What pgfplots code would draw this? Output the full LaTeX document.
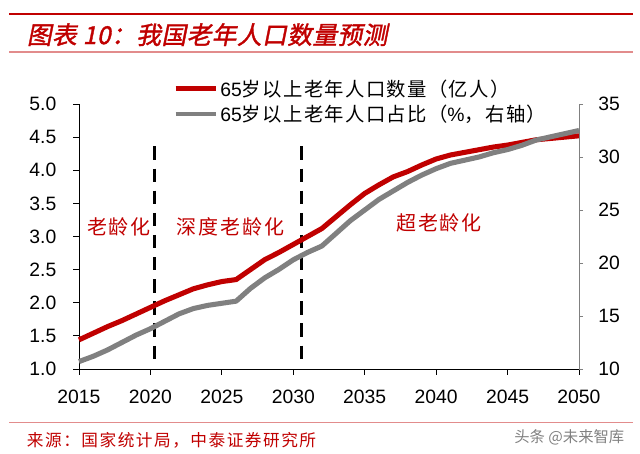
\documentclass[border=0pt]{standalone}
\usepackage{pgfplots}
\pgfplotsset{compat=1.18}
\usepackage{fontspec}
\setmainfont{Liberation Sans}
\newfontfamily\cjk{Noto Sans CJK SC}
\newfontfamily\cjkwide[LetterSpace=9]{Noto Sans CJK SC}
\newfontfamily\cjkleg[LetterSpace=7]{Noto Sans CJK SC}
\newfontfamily\cjktitle[FakeSlant=0.2,FakeBold=1.5,LetterSpace=2]{Noto Sans CJK SC}
\definecolor{hdred}{RGB}{192,0,0}
\definecolor{pinkline}{RGB}{226,140,140}
\definecolor{linegray}{RGB}{128,128,128}

% 65岁以上老年人口数量 (亿人)
\pgfplotstableread{
year num
2015 1.44
2016 1.54
2017 1.64
2018 1.73
2019 1.83
2020 1.93
2021 2.03
2022 2.12
2023 2.21
2024 2.27
2025 2.32
2026 2.35
2027 2.50
2028 2.65
2029 2.76
2030 2.88
2031 3.00
2032 3.12
2033 3.30
2034 3.48
2035 3.65
2036 3.78
2037 3.90
2038 3.98
2039 4.08
2040 4.17
2041 4.23
2042 4.27
2043 4.31
2044 4.35
2045 4.38
2046 4.42
2047 4.46
2048 4.48
2049 4.50
2050 4.52
}\numtable

% 65岁以上老年人口占比 (%)
\pgfplotstableread{
year pct
2015 10.7
2016 11.2
2017 11.8
2018 12.5
2019 13.2
2020 13.8
2021 14.5
2022 15.2
2023 15.7
2024 16.0
2025 16.2
2026 16.4
2027 17.6
2028 18.6
2029 19.4
2030 20.3
2031 21.0
2032 21.6
2033 22.8
2034 24.0
2035 25.0
2036 26.0
2037 26.8
2038 27.6
2039 28.3
2040 28.9
2041 29.4
2042 29.7
2043 30.0
2044 30.4
2045 30.7
2046 31.1
2047 31.6
2048 31.9
2049 32.2
2050 32.5
}\pcttable

\begin{document}
\begin{tikzpicture}
\useasboundingbox (0,0) rectangle (480pt,340.5pt);
% header and footer rules
\draw[hdred, line width=2.2pt] (7pt,330pt) -- (475pt,330pt);
\draw[pinkline, line width=0.8pt] (7pt,301.5pt) -- (475pt,301.5pt);
\draw[pinkline, line width=0.8pt] (7pt,23.6pt) -- (475pt,23.6pt);
\node[anchor=west, text=hdred, font=\cjktitle\fontsize{18.5}{18.5}\selectfont, inner sep=0pt]
  at (20pt,314.5pt) {图表 10：我国老年人口数量预测};
\node[anchor=west, text=hdred, font=\cjkwide\fontsize{12.5}{12.5}\selectfont, inner sep=0pt]
  at (20pt,10.5pt) {来源：国家统计局，中泰证券研究所};
\node[anchor=center, text=gray, font=\cjk\fontsize{11.5}{11.5}\selectfont, inner sep=0pt]
  at (427pt,12.5pt) {头条 @未来智库};

\begin{axis}[
    at={(59.25pt,63.75pt)}, anchor=south west,
    scale only axis, width=375pt, height=198.75pt,
    xmin=2015, xmax=2050, ymin=1, ymax=5,
    axis y line*=left, axis x line*=bottom,
    xtick={2015,2020,...,2050}, ytick={1,1.5,...,5},
    x tick label style={/pgf/number format/1000 sep={}, yshift=-8pt},
    y tick label style={xshift=-9pt, /pgf/number format/.cd, fixed, fixed zerofill, precision=1},
    /pgf/number format/assume math mode=true,
    ticklabel style={font=\fontsize{14.5}{14.5}\selectfont},
    tick align=outside, major tick length=4.5pt,
    tick style={black, line width=0.6pt},
    axis line style={black, line width=0.6pt},
    clip=false,
]
\addplot[black, line width=2.2pt, dash pattern=on 10pt off 6.6pt] coordinates {(2020.3,4.36) (2020.3,1.15)};
\addplot[black, line width=2.2pt, dash pattern=on 10pt off 6.6pt] coordinates {(2030.6,4.36) (2030.6,1.15)};
\addplot[hdred, line width=3.8pt, line join=round] table[x=year, y=num] {\numtable};
\node[text=hdred, font=\cjkwide\fontsize{15}{15}\selectfont] at (axis cs:2017.8,3.15) {老龄化};
\node[text=hdred, font=\cjkwide\fontsize{15}{15}\selectfont] at (axis cs:2025.6,3.15) {深度老龄化};
\node[text=hdred, font=\cjkwide\fontsize{15}{15}\selectfont] at (axis cs:2040.2,3.2) {超老龄化};
\end{axis}

\begin{axis}[
    at={(59.25pt,63.75pt)}, anchor=south west,
    scale only axis, width=375pt, height=198.75pt,
    xmin=2015, xmax=2050, ymin=10, ymax=35,
    axis y line*=right, axis x line=none,
    ytick={10,15,...,35},
    yticklabel style={xshift=8pt},
    /pgf/number format/assume math mode=true,
    ticklabel style={font=\fontsize{14.5}{14.5}\selectfont},
    tick align=outside, major tick length=3pt,
    tick style={linegray, line width=0.6pt},
    axis line style={linegray, line width=0.6pt},
    clip=false,
    legend style={at={(0.188,1.01)}, anchor=west, draw=none, fill=none,
      inner sep=0pt, row sep=1pt, font=\fontsize{14.5}{16}\selectfont},
    legend cell align=left,
    legend image code/.code={\draw[#1] (0pt,0pt) -- (30pt,0pt);},
]
\addlegendimage{hdred, line width=3.4pt}
\addlegendentry{65{\cjkleg 岁以上老年人口数量（亿人）}}
\addlegendimage{linegray, line width=3.4pt}
\addlegendentry{65{\cjkleg 岁以上老年人口占比（}\%{\cjkleg ，右轴）}}
\addplot[linegray, line width=3.8pt, line join=round] table[x=year, y=pct] {\pcttable};
\end{axis}
\end{tikzpicture}
\end{document}
